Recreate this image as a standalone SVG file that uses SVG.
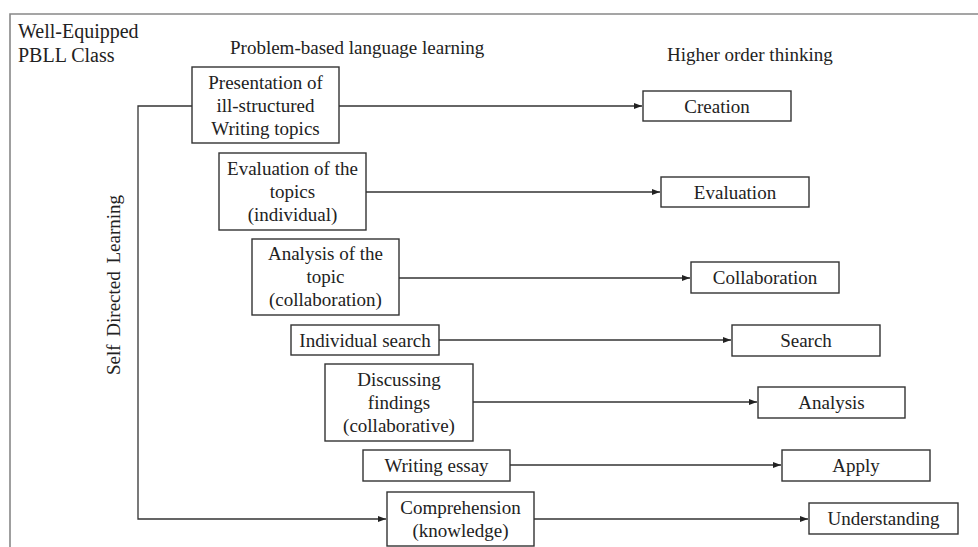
<svg xmlns="http://www.w3.org/2000/svg" width="978" height="547" viewBox="0 0 978 547">
<style>
text{font-family:'Liberation Serif','Times New Roman',Times,'DejaVu Serif',serif;font-size:19px;fill:#222}
.c{text-anchor:middle}
.box{fill:#fff;stroke:#333;stroke-width:1.4}
.ln{fill:none;stroke:#333;stroke-width:1.3}
.frame{fill:none;stroke:#888;stroke-width:1.6}
</style>
<defs>
<marker id="ah" viewBox="0 0 8 6" refX="8" refY="3" markerWidth="8" markerHeight="6" markerUnits="userSpaceOnUse" orient="auto">
<path d="M0,0 L8,3 L0,6 Z" fill="#222"/>
</marker>
</defs>
<rect width="978" height="547" fill="#fff"/>
<path class="frame" d="M10,547 V14 H978"/>
<g id="titles" font-family="Liberation Serif, serif">
<text x="18" y="38" style="font-size:20px">Well-Equipped</text>
<text x="18" y="62" style="font-size:20px">PBLL Class</text>
<text x="230" y="54">Problem-based language learning</text>
<text x="667" y="61">Higher order thinking</text>
<text class="c" transform="translate(120,285) rotate(-90)" style="word-spacing:3px">Self Directed Learning</text>
</g>
<g id="connectors">
<path class="ln" d="M192,106 H138 V519 H386" marker-end="url(#ah)"/>
<path class="ln" d="M339,106 H642" marker-end="url(#ah)"/>
<path class="ln" d="M366,192 H660" marker-end="url(#ah)"/>
<path class="ln" d="M399,278 H690" marker-end="url(#ah)"/>
<path class="ln" d="M439,340 H731" marker-end="url(#ah)"/>
<path class="ln" d="M473,402 H757" marker-end="url(#ah)"/>
<path class="ln" d="M510,465 H781" marker-end="url(#ah)"/>
<path class="ln" d="M534,519 H808" marker-end="url(#ah)"/>
</g>
<g id="n-presentation">
<rect class="box" x="192" y="67" width="147" height="76"/>
<text class="c" x="265.5" y="88.5">Presentation of</text>
<text class="c" x="265.5" y="111.5">ill-structured</text>
<text class="c" x="265.5" y="134.5">Writing topics</text>
</g>
<g id="n-evaluation-topics">
<rect class="box" x="219" y="153" width="147" height="77"/>
<text class="c" x="292.5" y="175">Evaluation of the</text>
<text class="c" x="292.5" y="198">topics</text>
<text class="c" x="292.5" y="221">(individual)</text>
</g>
<g id="n-analysis-topic">
<rect class="box" x="252" y="239" width="147" height="76"/>
<text class="c" x="325.5" y="260">Analysis of the</text>
<text class="c" x="325.5" y="283">topic</text>
<text class="c" x="325.5" y="306">(collaboration)</text>
</g>
<g id="n-individual-search">
<rect class="box" x="291" y="325" width="148" height="30"/>
<text class="c" x="365" y="347">Individual search</text>
</g>
<g id="n-discussing">
<rect class="box" x="325" y="364" width="148" height="77"/>
<text class="c" x="399" y="386">Discussing</text>
<text class="c" x="399" y="409">findings</text>
<text class="c" x="399" y="432">(collaborative)</text>
</g>
<g id="n-writing-essay">
<rect class="box" x="363" y="450" width="147" height="31"/>
<text class="c" x="436.5" y="472">Writing essay</text>
</g>
<g id="n-comprehension">
<rect class="box" x="387" y="492" width="147" height="54"/>
<text class="c" x="460.5" y="514">Comprehension</text>
<text class="c" x="460.5" y="537">(knowledge)</text>
</g>
<g id="n-creation">
<rect class="box" x="643" y="91" width="148" height="30"/>
<text class="c" x="717" y="113">Creation</text>
</g>
<g id="n-evaluation">
<rect class="box" x="661" y="177" width="148" height="30"/>
<text class="c" x="735" y="199">Evaluation</text>
</g>
<g id="n-collaboration">
<rect class="box" x="691" y="262" width="148" height="31"/>
<text class="c" x="765" y="284">Collaboration</text>
</g>
<g id="n-search">
<rect class="box" x="732" y="325" width="148" height="31"/>
<text class="c" x="806" y="347">Search</text>
</g>
<g id="n-analysis">
<rect class="box" x="758" y="387" width="147" height="31"/>
<text class="c" x="831.5" y="409">Analysis</text>
</g>
<g id="n-apply">
<rect class="box" x="782" y="450" width="148" height="31"/>
<text class="c" x="856" y="472">Apply</text>
</g>
<g id="n-understanding">
<rect class="box" x="809" y="503" width="149" height="31"/>
<text class="c" x="883.5" y="525">Understanding</text>
</g>
</svg>
